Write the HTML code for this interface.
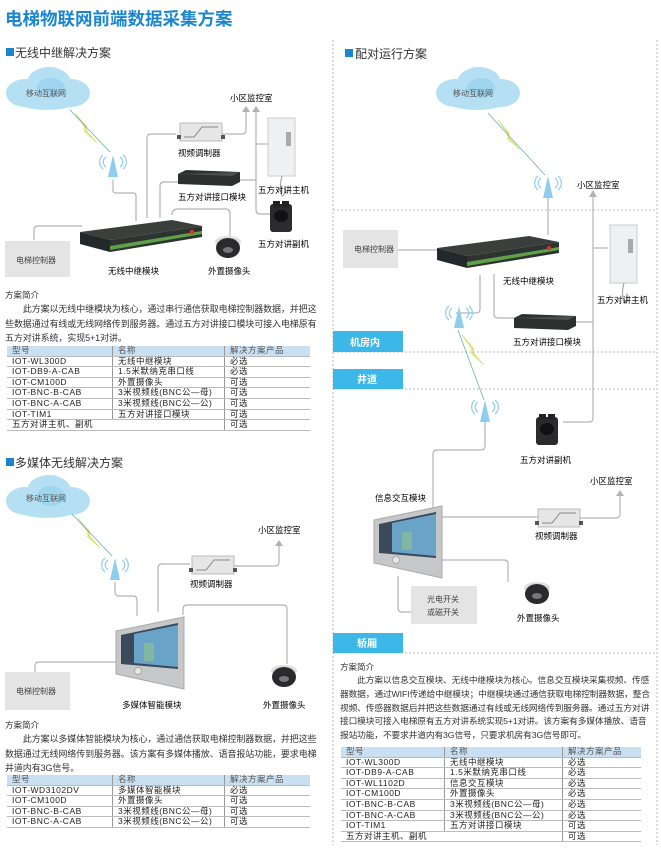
<!DOCTYPE html>
<html><head><meta charset="utf-8"><style>
*{margin:0;padding:0}
body{width:661px;height:848px;background:#fff;position:relative;overflow:hidden;font-family:"Liberation Sans","Noto Sans CJK SC",sans-serif;color:#333}
svg{position:absolute;left:0;top:0}
.t{position:absolute;font-size:9px;line-height:14.5px;color:#333}
table{position:absolute;border-collapse:collapse;font-size:8.5px;color:#222}
td{height:9.6px;line-height:9.6px;padding:0 0 0 5px;border-bottom:1px solid #bbb;border-right:1px solid #999;white-space:nowrap;letter-spacing:0.5px}
td:last-child{border-right:none}
tr.h td{background:#c9e0f2;color:#555}
</style></head><body>
<svg width="661" height="848" viewBox="0 0 661 848" font-family="Liberation Sans, Noto Sans CJK SC, sans-serif">
<defs>
<g id="cloud"><ellipse cx="20" cy="27" rx="19" ry="14" fill="#b5e0f4"/><ellipse cx="44" cy="17" rx="22" ry="16" fill="#b5e0f4"/><ellipse cx="66" cy="27" rx="19" ry="14" fill="#b5e0f4"/><ellipse cx="42" cy="32" rx="34" ry="12" fill="#b5e0f4"/><ellipse cx="46" cy="22" rx="14" ry="10" fill="#9fd5ef"/></g>
<g id="ant"><polygon points="5,0 0,22 10,22" fill="#8fcdee"/><path d="M-2,2 a6,6 0 0 0 0,10 M12,2 a6,6 0 0 1 0,10 M-5,0 a9,9 0 0 0 0,14 M15,0 a9,9 0 0 1 0,14" stroke="#8fcdee" fill="none" stroke-width="1.2"/></g>
<g id="relay"><polygon points="0,12 92,0 122,6 30,20" fill="#3a3f3b"/><polygon points="0,12 30,20 30,32 0,24" fill="#23282a"/><polygon points="30,20 122,6 122,17 30,32" fill="#2c3331"/><polygon points="30,26 122,11 122,14 30,30" fill="#5fa048"/><circle cx="112" cy="12" r="2.2" fill="#d32"/></g>
<g id="cam"><ellipse cx="14" cy="6" rx="13" ry="6" fill="#ddd"/><ellipse cx="14" cy="12" rx="12" ry="10" fill="#2a2a2e"/><ellipse cx="14" cy="14" rx="5" ry="3" fill="#777"/></g>
<g id="mod"><rect x="0" y="0" width="42" height="18" fill="#e6e6e6" stroke="#bbb"/><path d="M4,14 L14,14 L22,4 L38,4" stroke="#888" fill="none"/><rect x="-3" y="12" width="4" height="4" fill="#555"/><rect x="41" y="12" width="4" height="4" fill="#555"/></g>
<g id="iface"><polygon points="0,4 8,0 62,2 62,12 54,16 0,14" fill="#2c3130"/><polygon points="0,4 54,6 62,2" fill="#4a4f4e"/></g>
<g id="scr"><polygon points="0,14 68,0 68,72 0,57" fill="#c5c7c9" stroke="#aaa"/><polygon points="5,18 62,6 62,52 5,47" fill="#3a4a5a"/><polygon points="18,17 62,8 62,50 18,46" fill="#6aa3c8"/><rect x="28" y="26" width="10" height="18" fill="#7fb7a0"/><circle cx="22" cy="54" r="3.5" fill="#e8e8e8" stroke="#aaa"/></g>
<g id="main"><rect x="0" y="0" width="27" height="58" fill="#eef0f2" stroke="#ccc"/><rect x="18" y="14" width="5" height="14" fill="#aaa"/><path d="M14,58 q-3,10 0,20 q3,0 3,-10" stroke="#999" fill="none"/></g>
<g id="sub"><rect x="0" y="3" width="22" height="28" rx="3" fill="#2b2b2d"/><rect x="3" y="0" width="7" height="6" fill="#222"/><rect x="12" y="0" width="7" height="6" fill="#222"/><ellipse cx="11" cy="15" rx="7" ry="6" fill="#111"/></g>
<g id="bolt"><polygon points="0,0 12,14 9,15 22,30 9,18 12,17" fill="#e9ec70" stroke="#c8cc40" stroke-width="0.5"/></g>
</defs>
<text x="5" y="25" font-size="17.5" font-weight="bold" fill="#1a86d0">电梯物联网前端数据采集方案</text>

<!-- LEFT 1 -->
<rect x="6" y="48" width="8" height="8" fill="#1a86d0"/><text x="15" y="57" font-size="12" fill="#333">无线中继解决方案</text>
<g fill="none" stroke="#b3b3b3" stroke-width="1.2">
<path d="M113,180 v10 q0,3 3,3 h17 q3,0 3,3 v25"/>
<path d="M147,218 v-80 q0,-4 4,-4 h25"/>
<path d="M160,218 v-32 q0,-4 4,-4 h14"/>
<path d="M172,215 q0,-6 6,-6 h48 q4,0 4,5 v25"/>
<path d="M34,240 v-10 q0,-4 4,-4 h44"/>
<path d="M222,134 h20 q4,0 4,-4 v-20"/><path d="M256,110 v100 q0,4 4,4 h10"/><path d="M238,180 h18"/><path d="M256,144 h12"/>
</g>
<polygon points="246,106 242,112 250,112" fill="#b3b3b3"/><polygon points="256,106 252,112 260,112" fill="#b3b3b3"/>
<use href="#cloud" x="5" y="66"/><text x="26" y="96" font-size="8" fill="#555">移动互联网</text>
<use href="#bolt" x="75" y="113"/><line x1="70" y1="110" x2="110" y2="152" stroke="#5aa" stroke-width="0.7"/>
<use href="#ant" x="108" y="155"/>
<text x="230" y="101" font-size="8.5">小区监控室</text>
<use href="#mod" x="180" y="123"/><text x="178" y="156" font-size="8.5">视频调制器</text>
<use href="#iface" x="178" y="170"/><text x="178" y="200" font-size="8.5">五方对讲接口模块</text>
<use href="#main" x="268" y="118"/><text x="258" y="193" font-size="8.5">五方对讲主机</text>
<use href="#sub" x="270" y="201"/><text x="258" y="247" font-size="8.5">五方对讲副机</text>
<use href="#relay" x="80" y="220"/><text x="108" y="274" font-size="8.5">无线中继模块</text>
<use href="#cam" x="214" y="236"/><text x="208" y="274" font-size="8.5">外置摄像头</text>
<rect x="5" y="241" width="65" height="36" fill="#e4e4e4"/><text x="16" y="263" font-size="8" fill="#444">电梯控制器</text>
<text x="5" y="298" font-size="8.5" fill="#333">方案简介</text>

<!-- LEFT 2 -->
<rect x="6" y="458" width="8" height="8" fill="#1a86d0"/><text x="15" y="467" font-size="12" fill="#333">多媒体无线解决方案</text>
<g fill="none" stroke="#b3b3b3" stroke-width="1.2">
<path d="M115,582 v10 q0,4 4,4 h14 q4,0 4,4 v16"/>
<path d="M158,612 v-44 q0,-4 4,-4 h28"/>
<path d="M183,615 v-6 q0,-4 4,-4 h96 q4,0 4,4 v55"/>
<path d="M35,672 v-6 q0,-4 4,-4 h78"/>
<path d="M234,566 h41 q4,0 4,-4 v-18"/>
</g>
<polygon points="279,540 275,546 283,546" fill="#b3b3b3"/>
<use href="#cloud" x="5" y="474"/><text x="26" y="501" font-size="8" fill="#555">移动互联网</text>
<use href="#bolt" x="78" y="518"/><line x1="72" y1="514" x2="112" y2="556" stroke="#5aa" stroke-width="0.7"/>
<use href="#ant" x="110" y="558"/>
<text x="258" y="533" font-size="8.5">小区监控室</text>
<use href="#mod" x="192" y="556"/><text x="190" y="587" font-size="8.5">视频调制器</text>
<use href="#scr" x="116" y="617"/><text x="122" y="708" font-size="8.5">多媒体智能模块</text>
<use href="#cam" x="270" y="665"/><text x="263" y="708" font-size="8.5">外置摄像头</text>
<rect x="5" y="672" width="65" height="38" fill="#e4e4e4"/><text x="16" y="694" font-size="8" fill="#444">电梯控制器</text>
<text x="5" y="728" font-size="8.5" fill="#333">方案简介</text>

<!-- RIGHT -->
<g stroke="#aaa" stroke-dasharray="2,2" fill="none" stroke-width="0.8">
<line x1="333" y1="40" x2="333" y2="845"/><line x1="657" y1="40" x2="657" y2="845"/>
<line x1="333" y1="210" x2="657" y2="210"/><line x1="333" y1="352" x2="657" y2="352"/><line x1="333" y1="389" x2="657" y2="389"/><line x1="333" y1="653" x2="657" y2="653"/>
</g>
<rect x="345" y="49" width="8" height="8" fill="#1a86d0"/><text x="355" y="58" font-size="12" fill="#333">配对运行方案</text>
<g fill="none" stroke="#b3b3b3" stroke-width="1.2">
<path d="M548,198 v37"/><path d="M398,250 h40"/>
<path d="M593,196 v222 q0,4 -4,4 h-26"/><path d="M593,248 h15"/><path d="M575,322 h18"/>
<path d="M480,275 v34 q0,4 -4,4 h-20"/><path d="M494,274 v40 q0,4 4,4 h16"/>
<path d="M485,422 v24 q0,4 -4,4 h-44 q-4,0 -4,4 v63"/>
<path d="M440,517 h98"/><path d="M580,518 h36 q4,0 4,-4 v-18"/>
<path d="M440,560 h64 q4,0 4,4 v18"/>
<path d="M398,576 v32 q0,4 4,4 h10"/>
</g>
<polygon points="593,190 589,197 597,197" fill="#b3b3b3"/><polygon points="620,490 616,496 624,496" fill="#b3b3b3"/>
<use href="#cloud" x="435" y="66"/><text x="453" y="96" font-size="8" fill="#555">移动互联网</text>
<use href="#bolt" x="498" y="120"/><line x1="488" y1="113" x2="545" y2="175" stroke="#5aa" stroke-width="0.7"/>
<use href="#ant" x="543" y="176"/>
<text x="577" y="188" font-size="8.5">小区监控室</text>
<rect x="343" y="230" width="55" height="38" fill="#e4e4e4"/><text x="354" y="252" font-size="8" fill="#444">电梯控制器</text>
<use href="#relay" x="437" y="236"/><text x="503" y="284" font-size="8.5">无线中继模块</text>
<use href="#main" x="610" y="225"/><text x="597" y="303" font-size="8.5">五方对讲主机</text>
<use href="#iface" x="514" y="314"/><text x="513" y="345" font-size="8.5">五方对讲接口模块</text>
<use href="#ant" x="454" y="306"/>
<use href="#bolt" x="462" y="335"/><line x1="458" y1="330" x2="484" y2="400" stroke="#5aa" stroke-width="0.7"/>
<use href="#ant" x="480" y="400"/>
<use href="#sub" x="536" y="414"/><text x="520" y="463" font-size="8.5">五方对讲副机</text>
<text x="590" y="484" font-size="8.5">小区监控室</text>
<text x="375" y="501" font-size="8.5">信息交互模块</text>
<use href="#scr" x="374" y="506"/>
<use href="#mod" x="538" y="509"/><text x="535" y="539" font-size="8.5">视频调制器</text>
<rect x="411" y="586" width="66" height="38" fill="#e4e4e4"/><text x="427" y="602" font-size="8" fill="#444">光电开关</text><text x="427" y="615" font-size="8" fill="#444">或磁开关</text>
<use href="#cam" x="523" y="582"/><text x="517" y="621" font-size="8.5">外置摄像头</text>
<rect x="333" y="331" width="70" height="21" fill="#3cb8e8"/><text x="350" y="346" font-size="10" font-weight="bold" fill="#fff">机房内</text>
<rect x="333" y="369" width="70" height="20" fill="#3cb8e8"/><text x="357" y="383" font-size="10" font-weight="bold" fill="#fff">井道</text>
<rect x="333" y="633" width="70" height="20" fill="#3cb8e8"/><text x="357" y="647" font-size="10" font-weight="bold" fill="#fff">轿厢</text>
<text x="340" y="670" font-size="8.5" fill="#333">方案简介</text>
</svg>

<div class="t" style="left:5px;top:302px;width:318px;letter-spacing:-0.1px">&emsp;&emsp;此方案以无线中继模块为核心，通过串行通信获取电梯控制器数据，并把这些数据通过有线或无线网络传到服务器。通过五方对讲接口模块可接入电梯原有五方对讲系统，实现5+1对讲。</div>
<table style="left:7px;top:346px;width:303px">
<tr class="h"><td style="width:100px">型号</td><td style="width:106px">名称</td><td>解决方案产品</td></tr>
<tr><td>IOT-WL300D</td><td>无线中继模块</td><td>必选</td></tr>
<tr><td>IOT-DB9-A-CAB</td><td>1.5米默纳克串口线</td><td>必选</td></tr>
<tr><td>IOT-CM100D</td><td>外置摄像头</td><td>可选</td></tr>
<tr><td>IOT-BNC-B-CAB</td><td>3米视频线(BNC公—母)</td><td>可选</td></tr>
<tr><td>IOT-BNC-A-CAB</td><td>3米视频线(BNC公—公)</td><td>可选</td></tr>
<tr><td>IOT-TIM1</td><td>五方对讲接口模块</td><td>可选</td></tr>
<tr><td colspan="2" style="border-right:1px solid #999">五方对讲主机、副机</td><td>可选</td></tr>
</table>

<div class="t" style="left:5px;top:732px;width:318px;letter-spacing:-0.1px">&emsp;&emsp;此方案以多媒体智能模块为核心，通过通信获取电梯控制器数据，并把这些数据通过无线网络传到服务器。该方案有多媒体播放、语音报站功能，要求电梯井道内有3G信号。</div>
<table style="left:7px;top:775px;width:303px">
<tr class="h"><td style="width:100px">型号</td><td style="width:106px">名称</td><td>解决方案产品</td></tr>
<tr><td>IOT-WD3102DV</td><td>多媒体智能模块</td><td>必选</td></tr>
<tr><td>IOT-CM100D</td><td>外置摄像头</td><td>可选</td></tr>
<tr><td>IOT-BNC-B-CAB</td><td>3米视频线(BNC公—母)</td><td>可选</td></tr>
<tr><td>IOT-BNC-A-CAB</td><td>3米视频线(BNC公—公)</td><td>可选</td></tr>
</table>

<div class="t" style="left:340px;top:674px;width:312px;font-size:8.7px;line-height:13.8px;letter-spacing:-0.1px">&emsp;&emsp;此方案以信息交互模块、无线中继模块为核心。信息交互模块采集视频、传感器数据，通过WIFI传递给中继模块；中继模块通过通信获取电梯控制器数据，整合视频、传感器数据后并把这些数据通过有线或无线网络传到服务器。通过五方对讲接口模块可接入电梯原有五方对讲系统实现5+1对讲。该方案有多媒体播放、语音报站功能，不要求井道内有3G信号，只要求机房有3G信号即可。</div>
<table style="left:341px;top:747px;width:300px">
<tr class="h"><td style="width:98px">型号</td><td style="width:112px">名称</td><td>解决方案产品</td></tr>
<tr><td>IOT-WL300D</td><td>无线中继模块</td><td>必选</td></tr>
<tr><td>IOT-DB9-A-CAB</td><td>1.5米默纳克串口线</td><td>必选</td></tr>
<tr><td>IOT-WL1102D</td><td>信息交互模块</td><td>必选</td></tr>
<tr><td>IOT-CM100D</td><td>外置摄像头</td><td>必选</td></tr>
<tr><td>IOT-BNC-B-CAB</td><td>3米视频线(BNC公—母)</td><td>必选</td></tr>
<tr><td>IOT-BNC-A-CAB</td><td>3米视频线(BNC公—公)</td><td>必选</td></tr>
<tr><td>IOT-TIM1</td><td>五方对讲接口模块</td><td>可选</td></tr>
<tr><td colspan="2" style="border-right:1px solid #999">五方对讲主机、副机</td><td>可选</td></tr>
</table>
</body></html>
